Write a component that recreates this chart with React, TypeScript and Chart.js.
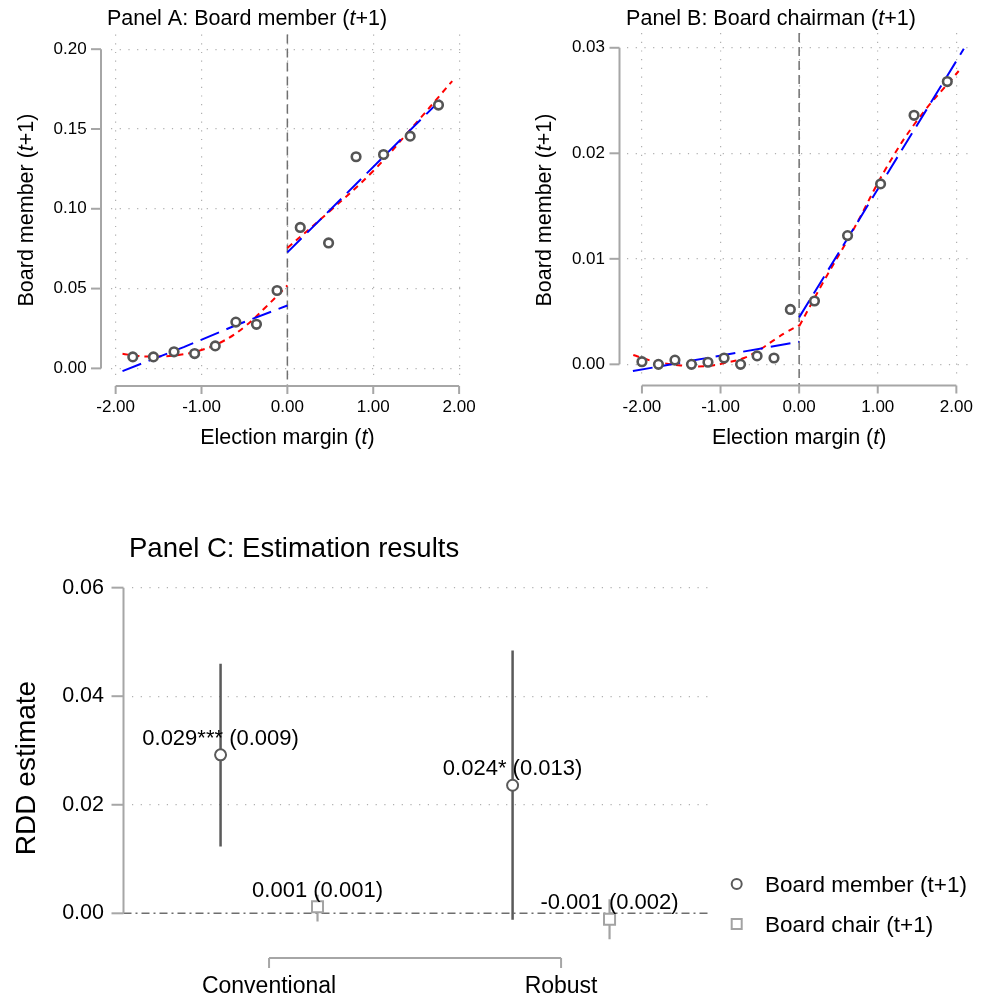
import React, { useEffect, useRef } from 'react';
import { Chart, registerables } from 'chart.js';

Chart.register(...registerables);

const FONT = '"Liberation Sans", Arial, Helvetica, sans-serif';
const GRID = '#b0b0b0';
const AXIS = '#a6a6a6';
const MARK = '#555555';
const MEMBER = '#5a5a5a';
const CHAIR = '#a3a3a3';

// ---------- Panel A: Board member (t+1) ----------
const aBinX = [-1.8, -1.56, -1.32, -1.08, -0.84, -0.6, -0.36, -0.12, 0.15, 0.48, 0.8, 1.12, 1.43, 1.76];
const aBinY = [0.0072, 0.0072, 0.0104, 0.0093, 0.0141, 0.029, 0.0276, 0.0488, 0.0883, 0.0786, 0.1326, 0.134, 0.1455, 0.165];
const aRedLX = [-1.92, -1.75, -1.5, -1.25, -1.0, -0.75, -0.5, -0.25, 0];
const aRedLY = [0.0092, 0.0078, 0.0075, 0.0085, 0.0115, 0.017, 0.026, 0.0385, 0.052];
const aRedRX = [0, 0.5, 1.0, 1.4, 1.92];
const aRedRY = [0.0755, 0.0988, 0.1237, 0.1476, 0.18];
const aBlueLX = [-1.92, -1.2, -0.6, 0];
const aBlueLY = [-0.0017, 0.0135, 0.027, 0.0394];
const aBlueRX = [0, 1.836];
const aBlueRY = [0.0727, 0.171];
const aXTicks = [-2, -1, 0, 1, 2];
const aYTicks = [0, 0.05, 0.1, 0.15, 0.2];

// ---------- Panel B: Board chairman (t+1) ----------
const bBinX = [-2.0, -1.79, -1.58, -1.37, -1.16, -0.955, -0.745, -0.535, -0.32, -0.112, 0.195, 0.616, 1.036, 1.462, 1.885];
const bBinY = [0.00025, 0.0, 0.0004, 0.0, 0.0002, 0.0006, 0.0, 0.0008, 0.0006, 0.0052, 0.006, 0.0122, 0.0171, 0.0236, 0.0268];
const bRedLX = [-2.11, -1.91, -1.71, -1.51, -1.31, -1.1, -0.9, -0.7, -0.5, -0.3, -0.15, 0];
const bRedLY = [0.00088, 0.0004, 0.0001, -0.0001, -0.0002, -0.0001, 0.0002, 0.0006, 0.0014, 0.0024, 0.0031, 0.0037];
const bRedRX = [0, 0.3, 0.7, 1.1, 1.5, 2.03];
const bRedRY = [0.0036, 0.0077, 0.0129, 0.0185, 0.0231, 0.0278];
const bBlueLX = [-2.115, 0];
const bBlueLY = [-0.00064, 0.00214];
const bBlueRX = [0, 2.095];
const bBlueRY = [0.00445, 0.0299];
const bXTicks = [-2, -1, 0, 1, 2];
const bYTicks = [0, 0.01, 0.02, 0.03];

// ---------- Panel C: Estimation results ----------
const cCategories = ['Conventional', 'Robust'];
const cCatPos = [1, 2];
const cSeriesOffset = 0.166;
const memberEst = [0.0292, 0.0236];
const memberLo = [0.0123, -0.0012];
const memberHi = [0.046, 0.0484];
const chairEst = [0.0012, -0.0011];
const chairLo = [-0.0015, -0.0048];
const chairHi = [0.0034, 0.0026];
const memberLabels = ['0.029*** (0.009)', '0.024* (0.013)'];
const chairLabels = ['0.001 (0.001)', '-0.001 (0.002)'];
const seriesNames = ['Board member (t+1)', 'Board chair (t+1)'];
const cYTicks = [0, 0.02, 0.04, 0.06];

type Part = [string, boolean];

function drawRich(
  ctx: CanvasRenderingContext2D,
  parts: Part[],
  x: number,
  y: number,
  size: number,
  align: 'left' | 'center' | 'right' = 'center',
  rotate = false,
  color = '#000'
) {
  ctx.save();
  const fonts = parts.map(([, it]) => `${it ? 'italic ' : ''}${size}px ${FONT}`);
  const widths = parts.map(([t], i) => {
    ctx.font = fonts[i];
    return ctx.measureText(t).width;
  });
  const total = widths.reduce((a, b) => a + b, 0);
  ctx.translate(x, y);
  if (rotate) ctx.rotate(-Math.PI / 2);
  let cx = align === 'center' ? -total / 2 : align === 'right' ? -total : 0;
  ctx.fillStyle = color;
  ctx.textAlign = 'left';
  ctx.textBaseline = 'alphabetic';
  parts.forEach(([t], i) => {
    ctx.font = fonts[i];
    ctx.fillText(t, cx, 0.358 * size);
    cx += widths[i];
  });
  ctx.restore();
}

function pts(xs: number[], ys: number[]) {
  return xs.map((x, i) => ({ x, y: ys[i] }));
}

function line(ctx: CanvasRenderingContext2D, x1: number, y1: number, x2: number, y2: number) {
  ctx.beginPath();
  ctx.moveTo(x1, y1);
  ctx.lineTo(x2, y2);
  ctx.stroke();
}

interface FitSpec {
  binX: number[]; binY: number[];
  redLX: number[]; redLY: number[]; redRX: number[]; redRY: number[];
  blueLX: number[]; blueLY: number[]; blueRX: number[]; blueRY: number[];
  xTicks: number[]; yTicks: number[];
  xMin: number; xMax: number; yMin: number; yMax: number;
  yDigits: number;
  top: number; right: number; yAxisW: number; xAxisH: number;
  yPad: number; xPad: number; yLineOff: number; xLineOff: number;
  title: Part[]; titleX: number; yTitleX: number;
}

function fitChart(canvas: HTMLCanvasElement, s: FitSpec) {
  const lineDs = (xs: number[], ys: number[], color: string, dash: number[], tension: number) => ({
    data: pts(xs, ys),
    showLine: true,
    borderColor: color,
    borderWidth: 2,
    borderDash: dash,
    pointRadius: 0,
    fill: false,
    tension,
  });
  return new Chart(canvas, {
    type: 'scatter',
    data: {
      datasets: [
        {
          data: pts(s.binX, s.binY),
          pointRadius: 4.3,
          pointBorderWidth: 2.6,
          pointBorderColor: MARK,
          pointBackgroundColor: '#ffffff',
          showLine: false,
        } as any,
        lineDs(s.blueLX, s.blueLY, '#0000ff', [20, 8], 0),
        lineDs(s.blueRX, s.blueRY, '#0000ff', [20, 8], 0),
        lineDs(s.redLX, s.redLY, '#ff0000', [6, 5], 0.4),
        lineDs(s.redRX, s.redRY, '#ff0000', [6, 5], 0.4),
      ],
    },
    options: {
      responsive: false,
      animation: false,
      devicePixelRatio: 1,
      events: [],
      layout: { padding: { left: 0, top: s.top, right: s.right, bottom: 0 } },
      plugins: { legend: { display: false }, tooltip: { enabled: false } },
      scales: {
        x: {
          type: 'linear',
          min: s.xMin,
          max: s.xMax,
          afterBuildTicks: (sc: any) => { sc.ticks = s.xTicks.map((v) => ({ value: v })); },
          afterFit: (sc: any) => { sc.height = s.xAxisH; },
          grid: { color: GRID, lineWidth: 1.2, drawTicks: false },
          border: { display: false, dash: [1.2, 7.5] },
          ticks: {
            padding: s.xPad,
            font: { size: 17, family: FONT },
            color: '#000',
            maxRotation: 0,
            autoSkip: false,
            callback: (v: any) => Number(v).toFixed(2),
          },
        },
        y: {
          type: 'linear',
          min: s.yMin,
          max: s.yMax,
          afterBuildTicks: (sc: any) => { sc.ticks = s.yTicks.map((v) => ({ value: v })); },
          afterFit: (sc: any) => { sc.width = s.yAxisW; },
          grid: { color: GRID, lineWidth: 1.2, drawTicks: false },
          border: { display: false, dash: [1.2, 7.5] },
          ticks: {
            padding: s.yPad,
            font: { size: 17, family: FONT },
            color: '#000',
            autoSkip: false,
            callback: (v: any) => Number(v).toFixed(s.yDigits),
          },
        },
      },
    } as any,
    plugins: [
      {
        id: 'fitDeco',
        beforeDatasetsDraw(chart: any) {
          const { ctx, chartArea, scales } = chart;
          const x0 = scales.x.getPixelForValue(0);
          ctx.save();
          ctx.strokeStyle = '#707070';
          ctx.lineWidth = 1.5;
          ctx.setLineDash([9, 5]);
          line(ctx, x0, chartArea.top, x0, chartArea.bottom + s.xLineOff);
          ctx.restore();
        },
        afterDraw(chart: any) {
          const { ctx, chartArea, scales } = chart;
          const xs = scales.x;
          const ys = scales.y;
          ctx.save();
          ctx.strokeStyle = AXIS;
          ctx.lineWidth = 2;
          ctx.setLineDash([]);
          // y axis
          const ax = chartArea.left - s.yLineOff;
          line(ctx, ax, ys.getPixelForValue(s.yTicks[0]), ax, ys.getPixelForValue(s.yTicks[s.yTicks.length - 1]));
          s.yTicks.forEach((v) => { const p = ys.getPixelForValue(v); line(ctx, ax - 10, p, ax, p); });
          // x axis
          const ay = chartArea.bottom + s.xLineOff;
          line(ctx, xs.getPixelForValue(s.xTicks[0]), ay, xs.getPixelForValue(s.xTicks[s.xTicks.length - 1]), ay);
          s.xTicks.forEach((v) => { const p = xs.getPixelForValue(v); line(ctx, p, ay, p, ay + 8); });
          ctx.restore();
          // titles
          drawRich(ctx, s.title, s.titleX, 17.5, 21.5, 'center');
          drawRich(ctx, [['Election margin (', false], ['t', true], [')', false]], xs.getPixelForValue(0), 436, 21.5, 'center');
          drawRich(ctx, [['Board member (', false], ['t', true], ['+1)', false]], s.yTitleX, 210, 21.5, 'center', true);
        },
      },
    ],
  });
}

function estChart(canvas: HTMLCanvasElement) {
  const memberX = cCatPos.map((p) => p - cSeriesOffset);
  const chairX = cCatPos.map((p) => p + cSeriesOffset);
  const ci = (x: number, lo: number, hi: number, color: string, w: number) => ({
    data: [{ x, y: lo }, { x, y: hi }],
    showLine: true,
    borderColor: color,
    borderWidth: w,
    pointRadius: 0,
    fill: false,
  });
  return new Chart(canvas, {
    type: 'scatter',
    data: {
      datasets: [
        {
          data: pts(memberX, memberEst),
          pointStyle: 'circle',
          pointRadius: 5.5,
          pointBorderWidth: 2,
          pointBorderColor: MEMBER,
          pointBackgroundColor: '#ffffff',
        } as any,
        {
          data: pts(chairX, chairEst),
          pointStyle: 'rect',
          pointRadius: 7.8,
          pointBorderWidth: 2,
          pointBorderColor: CHAIR,
          pointBackgroundColor: '#ffffff',
        },
        ...memberX.map((x, i) => ci(x, memberLo[i], memberHi[i], MEMBER, 2.5)),
        ...chairX.map((x, i) => ci(x, chairLo[i], chairHi[i], CHAIR, 2.2)),
      ],
    },
    options: {
      responsive: false,
      animation: false,
      devicePixelRatio: 1,
      events: [],
      layout: { padding: { left: 0, top: 76.8, right: 283, bottom: 51.4 } },
      plugins: { legend: { display: false }, tooltip: { enabled: false } },
      scales: {
        x: { type: 'linear', display: false, min: 0.529, max: 2.51 },
        y: {
          type: 'linear',
          min: -0.0065,
          max: 0.062,
          afterBuildTicks: (sc: any) => { sc.ticks = cYTicks.map((v) => ({ value: v })); },
          afterFit: (sc: any) => { sc.width = 131.5; },
          grid: {
            color: (c: any) => (c.tick && c.tick.value === 0 ? 'rgba(0,0,0,0)' : GRID),
            lineWidth: 1.2,
            drawTicks: false,
          },
          border: { display: false, dash: [1.2, 7.5] },
          ticks: {
            padding: 27.5,
            font: { size: 21.5, family: FONT },
            color: '#000',
            autoSkip: false,
            callback: (v: any) => Number(v).toFixed(2),
          },
        },
      },
    } as any,
    plugins: [
      {
        id: 'estDeco',
        beforeDatasetsDraw(chart: any) {
          const { ctx, chartArea, scales } = chart;
          const y0 = scales.y.getPixelForValue(0);
          ctx.save();
          ctx.strokeStyle = '#6e6e6e';
          ctx.lineWidth = 1.6;
          ctx.setLineDash([8, 4, 2, 4]);
          line(ctx, chartArea.left - 8, y0, chartArea.right, y0);
          ctx.restore();
        },
        afterDraw(chart: any) {
          const { ctx, chartArea, scales } = chart;
          const xs = scales.x;
          const ys = scales.y;
          ctx.save();
          ctx.strokeStyle = AXIS;
          ctx.lineWidth = 2;
          ctx.setLineDash([]);
          const ax = chartArea.left - 8;
          line(ctx, ax, ys.getPixelForValue(cYTicks[0]), ax, ys.getPixelForValue(cYTicks[cYTicks.length - 1]));
          cYTicks.forEach((v) => { const p = ys.getPixelForValue(v); line(ctx, ax - 12, p, ax, p); });
          // group bracket
          const by = chartArea.bottom + 9.4;
          const bx1 = xs.getPixelForValue(cCatPos[0]);
          const bx2 = xs.getPixelForValue(cCatPos[cCatPos.length - 1]);
          line(ctx, bx1, by, bx2, by);
          cCatPos.forEach((p) => { const px = xs.getPixelForValue(p); line(ctx, px, by, px, by + 10); });
          ctx.restore();
          cCategories.forEach((c, i) => drawRich(ctx, [[c, false]], xs.getPixelForValue(cCatPos[i]), 485, 23, 'center'));
          // value labels
          const m0 = chart.getDatasetMeta(0).data;
          const m1 = chart.getDatasetMeta(1).data;
          m0.forEach((el: any, i: number) => drawRich(ctx, [[memberLabels[i], false]], el.x, el.y - 18, 22, 'center'));
          m1.forEach((el: any, i: number) => drawRich(ctx, [[chairLabels[i], false]], el.x, el.y - 18, 22, 'center'));
          // titles
          drawRich(ctx, [['Panel C: Estimation results', false]], 129, 47.5, 27.5, 'left');
          drawRich(ctx, [['RDD estimate', false]], 25, 268, 28, 'center', true);
          // legend
          ctx.save();
          ctx.lineWidth = 2;
          ctx.strokeStyle = MEMBER;
          ctx.fillStyle = '#fff';
          ctx.beginPath();
          ctx.arc(736.7, 384, 5, 0, Math.PI * 2);
          ctx.fill();
          ctx.stroke();
          ctx.strokeStyle = CHAIR;
          ctx.strokeRect(731.7, 419, 10, 10);
          ctx.restore();
          drawRich(ctx, [[seriesNames[0], false]], 765, 384.3, 22.5, 'left');
          drawRich(ctx, [[seriesNames[1], false]], 765, 424.3, 22.5, 'left');
        },
      },
    ],
  });
}

export default function App() {
  const aRef = useRef<HTMLCanvasElement>(null);
  const bRef = useRef<HTMLCanvasElement>(null);
  const cRef = useRef<HTMLCanvasElement>(null);

  useEffect(() => {
    const a = fitChart(aRef.current!, {
      binX: aBinX, binY: aBinY,
      redLX: aRedLX, redLY: aRedLY, redRX: aRedRX, redRY: aRedRY,
      blueLX: aBlueLX, blueLY: aBlueLY, blueRX: aBlueRX, blueRY: aBlueRY,
      xTicks: aXTicks, yTicks: aYTicks,
      xMin: -2.054, xMax: 2.095, yMin: -0.0054, yMax: 0.2092,
      yDigits: 2,
      top: 33, right: 24, yAxisW: 111, xAxisH: 83,
      yPad: 24.3, xPad: 19.8, yLineOff: 10, xLineOff: 9,
      title: [['Panel A: Board member (', false], ['t', true], ['+1)', false]],
      titleX: 247, yTitleX: 25.8,
    });
    const b = fitChart(bRef.current!, {
      binX: bBinX, binY: bBinY,
      redLX: bRedLX, redLY: bRedLY, redRX: bRedRX, redRY: bRedRY,
      blueLX: bBlueLX, blueLY: bBlueLY, blueRX: bBlueRX, blueRY: bBlueRY,
      xTicks: bXTicks, yTicks: bYTicks,
      xMin: -2.19, xMax: 2.196, yMin: -0.0012, yMax: 0.0314,
      yDigits: 2,
      top: 33, right: 3, yAxisW: 131, xAxisH: 83,
      yPad: 22, xPad: 19.8, yLineOff: 7.5, xLineOff: 8.5,
      title: [['Panel B: Board chairman (', false], ['t', true], ['+1)', false]],
      titleX: 275, yTitleX: 47,
    });
    const c = estChart(cRef.current!);
    return () => {
      a.destroy();
      b.destroy();
      c.destroy();
    };
  }, []);

  return (
    <div style={{ position: 'absolute', left: 0, top: 0, width: 993, height: 1000, background: '#fff' }}>
      <canvas ref={aRef} width={496} height={460} style={{ position: 'absolute', left: 0, top: 0 }} />
      <canvas ref={bRef} width={497} height={460} style={{ position: 'absolute', left: 496, top: 0 }} />
      <canvas ref={cRef} width={993} height={500} style={{ position: 'absolute', left: 0, top: 500 }} />
    </div>
  );
}
